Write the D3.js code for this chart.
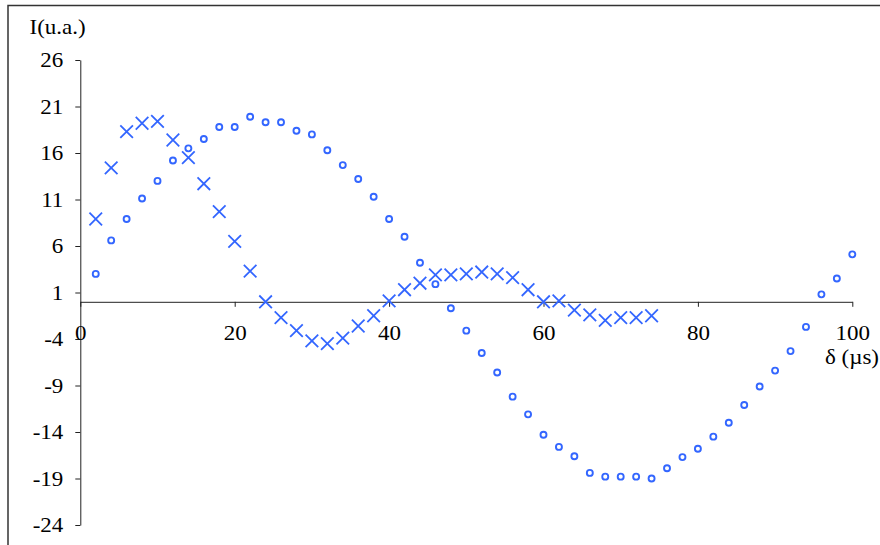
<!DOCTYPE html>
<html>
<head>
<meta charset="utf-8">
<script src="https://cdn.jsdelivr.net/npm/d3@7"></script>
<style>
  html, body { margin: 0; padding: 0; background: #fff; }
  svg { display: block; }
  text { font-family: "Liberation Serif", "Times New Roman", serif; fill: #000; }
</style>
</head>
<body>
<script>
// ---- data ----
const circleX = [2,4,6,8,10,12,14,16,18,20,22,24,26,28,30,32,34,36,38,40,42,44,46,48,50,52,54,56,58,60,62,64,66,68,70,72,74,76,78,80,82,84,86,88,90,92,94,96,98,100];
const circleY = [3.0,6.6,8.9,11.1,13.0,15.2,16.5,17.5,18.8,18.8,19.9,19.3,19.3,18.4,18.0,16.3,14.7,13.2,11.3,8.9,7.0,4.2,1.9,-0.7,-3.1,-5.5,-7.6,-10.2,-12.1,-14.3,-15.6,-16.6,-18.4,-18.8,-18.8,-18.8,-19.0,-17.9,-16.7,-15.8,-14.5,-13.0,-11.1,-9.1,-7.4,-5.3,-2.7,0.8,2.5,5.1];
const crossX = [2,4,6,8,10,12,14,16,18,20,22,24,26,28,30,32,34,36,38,40,42,44,46,48,50,52,54,56,58,60,62,64,66,68,70,72,74];
const crossY = [8.9,14.4,18.3,19.2,19.4,17.4,15.5,12.7,9.7,6.5,3.3,0.0,-1.7,-3.1,-4.2,-4.5,-3.9,-2.6,-1.5,0.1,1.3,2.0,2.9,2.9,3.0,3.2,3.0,2.6,1.3,0.0,0.1,-0.9,-1.4,-2.0,-1.7,-1.7,-1.5];
const yTicks = [-24,-19,-14,-9,-4,1,6,11,16,21,26];
const xTicks = [0,20,40,60,80,100];
const yTitle = "I(u.a.)";
const xTitle = "δ (µs)";

// ---- layout ----
const W = 880, H = 545;
const FS = 20, SX = 1.15;
const blue = "#3366ff";

const svg = d3.select("body").append("svg").attr("width", W).attr("height", H);

// outer frame
svg.append("rect").attr("x", 8).attr("y", 5.5).attr("width", W + 20).attr("height", H + 20)
  .attr("fill", "none").attr("stroke", "#333").attr("stroke-width", 1.5);

const x = d3.scaleLinear().domain([0, 100]).range([80.3, 852.3]);
const y = d3.scaleLinear().domain([-24, 26]).range([525, 60]);
const fmt = d => String(d);

function stretch(sel) {
  sel.each(function () {
    const t = d3.select(this);
    const tx = +t.attr("x") || 0, ty = +t.attr("y") || 0;
    t.attr("x", 0).attr("y", 0).attr("transform", `translate(${tx},${ty}) scale(${SX},1)`);
  });
}

// y axis
const gy = svg.append("g").attr("transform", `translate(${x(0)},0)`)
  .call(d3.axisLeft(y).tickValues(yTicks).tickFormat(fmt).tickSize(5).tickSizeOuter(0).tickPadding(12));
gy.selectAll("path,line").attr("stroke", "#222").attr("stroke-width", 1);
gy.selectAll("text").attr("font-size", FS).attr("font-family", "Liberation Serif").attr("fill", "#000")
  .attr("dy", null).attr("y", 6.8).call(stretch);

// x axis at y = 0
const gx = svg.append("g").attr("transform", `translate(0,${y(0)})`)
  .call(d3.axisBottom(x).tickValues(xTicks).tickFormat(fmt).tickSize(5).tickSizeOuter(0));
gx.selectAll("path,line").attr("stroke", "#222").attr("stroke-width", 1);
gx.selectAll("text").attr("font-size", FS).attr("font-family", "Liberation Serif").attr("fill", "#000")
  .attr("dy", null).attr("y", 38).call(stretch);

// titles
svg.append("text").attr("font-size", FS).attr("text-anchor", "start")
  .attr("transform", `translate(29.5,33.5) scale(${SX},1)`).text(yTitle);
svg.append("text").attr("font-size", FS).attr("text-anchor", "end")
  .attr("transform", `translate(879,364) scale(${SX},1)`).text(xTitle);

// circle series
svg.append("g").selectAll("circle").data(circleX.map((d, i) => [d, circleY[i]])).join("circle")
  .attr("cx", d => x(d[0])).attr("cy", d => y(d[1])).attr("r", 3)
  .attr("fill", "none").attr("stroke", blue).attr("stroke-width", 1.9);

// cross series
const s = 6.3;
svg.append("g").selectAll("path").data(crossX.map((d, i) => [d, crossY[i]])).join("path")
  .attr("d", d => {
    const cx = x(d[0]), cy = y(d[1]);
    return `M${cx - s},${cy - s}L${cx + s},${cy + s}M${cx - s},${cy + s}L${cx + s},${cy - s}`;
  })
  .attr("fill", "none").attr("stroke", blue).attr("stroke-width", 1.8);
</script>
</body>
</html>
